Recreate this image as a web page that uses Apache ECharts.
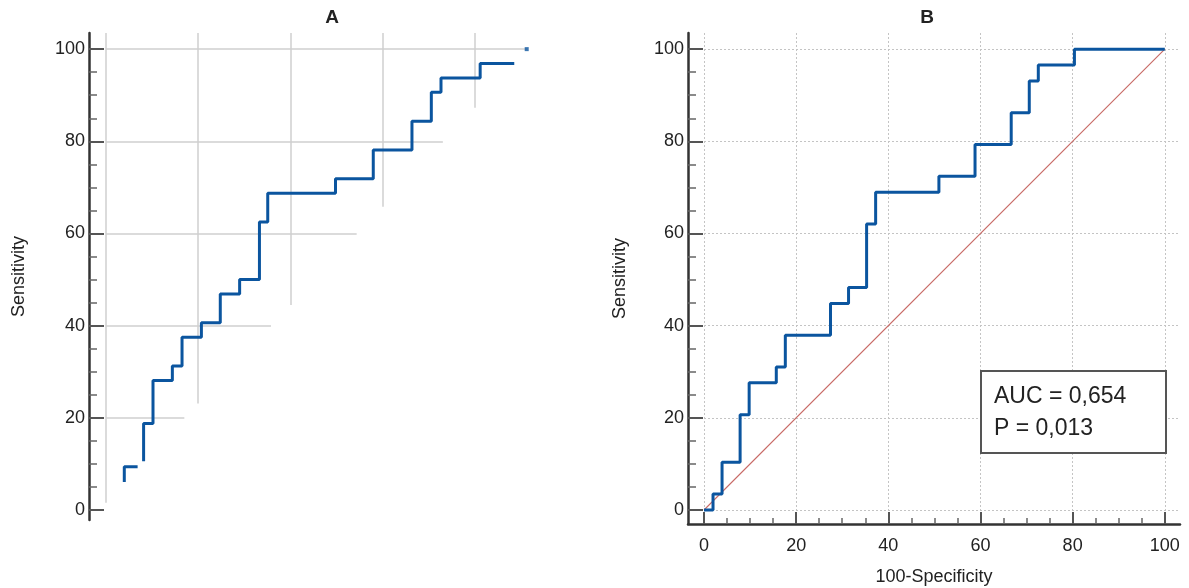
<!DOCTYPE html>
<html><head><meta charset="utf-8">
<script src="https://cdn.jsdelivr.net/npm/echarts@6/dist/echarts.min.js"></script>
<style>html,body{margin:0;padding:0;background:#fff}#c{width:1189px;height:588px}</style>
</head><body><div id="c"></div>
<script>
// ---- texts ----
const titleA = 'A';
const titleB = 'B';
const yName = 'Sensitivity';
const xName = '100-Specificity';
const aucText = 'AUC = 0,654';
const pText = 'P = 0,013';

// ---- axes (ranges extend a little past 0 and 100, ticks only at these values) ----
const tickValues = [0, 20, 40, 60, 80, 100];
const aXRange = [-3.69, 103.3];
const aYRange = [-2.17, 103.5];
const bXRange = [-3.47, 103.3];
const bYRange = [-3.04, 103.5];

// ---- panel A: ROC curve (null = gap in the drawn line) ----
const aFpr  = [3.97, 3.97, 6.86, null, 8.16, 8.16, 10.2, 14.4, 16.5, 20.7, 24.8, 29.0, 33.3, 35.1, 49.8, 58.0, 66.4, 70.6, 72.7, 81.2, 88.6];
const aSens = [6.1, 9.375, 9.375, null, 10.6, 18.75, 28.125, 31.25, 37.5, 40.625, 46.875, 50, 62.5, 68.75, 71.875, 78.125, 84.375, 90.625, 93.75, 96.875, 96.875];
const aEndDot = [91.3, 100];
// panel A partially drawn grid lines
const aGridX = [0, 20, 40, 60, 80];
const aGridXBottom = [1.6, 23.1, 44.5, 65.8, 87.3];
const aGridY = [100, 80, 60, 40, 20];
const aGridYRight = [91.3, 73.1, 54.4, 35.8, 17.0];

// ---- panel B: ROC curve ----
const bFpr  = [0, 1.96, 3.92, 7.84, 9.8, 15.69, 17.65, 27.45, 31.37, 35.29, 37.25, 50.98, 58.82, 66.67, 70.59, 72.55, 80.39, 100];
const bSens = [0, 3.45, 10.34, 20.69, 27.59, 31.03, 37.93, 44.83, 48.28, 62.07, 68.97, 72.41, 79.31, 86.21, 93.1, 96.55, 100, 100];
const chanceX = [0, 100];
const chanceY = [0, 100];

// ---- styles ----
const FONT = 'Liberation Sans, Arial, Helvetica, sans-serif';
const BLUE = '#0b559f';
const DIAG = '#c86a66';
const TXT = '#222';
const AXIS_LINE = { show: true, onZero: false, lineStyle: { color: '#333', width: 2.5 } };

const pairs = (xs, ys) => xs.map((x, i) => (x === null ? '-' : [x, ys[i]]));

const aGridSegments = aGridX.map((x, i) => ({ coords: [[x, aGridXBottom[i]], [x, aYRange[1]]] }))
  .concat(aGridY.map((y, i) => ({ coords: [[0, y], [aGridYRight[i], y]] })));

const gridLineStyle = { show: true, lineStyle: { color: '#c4c4c4', type: [2, 2], width: 1 } };

function valueAxis(gridIndex, range, tickLen, minorLen, extra) {
  return Object.assign({
    type: 'value', gridIndex, min: range[0], max: range[1],
    splitNumber: 5, minInterval: 20, maxInterval: 20,
    axisLine: AXIS_LINE,
    axisTick: { show: true, inside: true, length: tickLen, customValues: tickValues, lineStyle: { color: '#555', width: 2 } },
    minorTick: { show: true, splitNumber: 4, length: minorLen, lineStyle: { color: '#666', width: 1.5 } },
    axisLabel: { customValues: tickValues, fontSize: 18, color: TXT, fontFamily: FONT, margin: 4 },
    splitLine: { show: false }
  }, extra);
}

const option = {
  animation: false,
  backgroundColor: '#fff',
  grid: [
    { left: 89, top: 33, width: 493, height: 487, outerBoundsMode: 'none', containLabel: false },
    { left: 688, top: 33, width: 492, height: 491, outerBoundsMode: 'none', containLabel: false }
  ],
  xAxis: [
    { type: 'value', gridIndex: 0, min: aXRange[0], max: aXRange[1], show: false },
    valueAxis(1, bXRange, 12, 6, {
      axisLabel: { customValues: tickValues, fontSize: 18, color: TXT, fontFamily: FONT, margin: 13 },
      splitLine: gridLineStyle,
      name: xName, nameLocation: 'middle', nameGap: 44,
      nameTextStyle: { fontSize: 18, color: TXT, fontFamily: FONT }
    })
  ],
  yAxis: [
    valueAxis(0, aYRange, 15, 8, {
      name: yName, nameLocation: 'middle', nameGap: 61,
      nameTextStyle: { fontSize: 18, color: TXT, fontFamily: FONT }
    }),
    valueAxis(1, bYRange, 15, 8, {
      splitLine: gridLineStyle,
      name: yName, nameLocation: 'middle', nameGap: 59,
      nameTextStyle: { fontSize: 18, color: TXT, fontFamily: FONT }
    })
  ],
  series: [
    {
      type: 'lines', coordinateSystem: 'cartesian2d', xAxisIndex: 0, yAxisIndex: 0,
      data: aGridSegments, silent: true, z: 1,
      lineStyle: { color: '#cfcfcf', width: 1.5, opacity: 1 }
    },
    {
      type: 'line', xAxisIndex: 0, yAxisIndex: 0, step: 'end', showSymbol: false, symbol: 'none',
      data: pairs(aFpr, aSens), connectNulls: false, z: 3, color: BLUE,
      lineStyle: { color: BLUE, width: 3 }
    },
    {
      type: 'scatter', xAxisIndex: 0, yAxisIndex: 0, data: [aEndDot],
      symbol: 'rect', symbolSize: 4, itemStyle: { color: BLUE }, z: 3
    },
    {
      type: 'line', xAxisIndex: 1, yAxisIndex: 1, showSymbol: false, symbol: 'none',
      data: pairs(chanceX, chanceY), z: 2, color: DIAG, silent: true,
      itemStyle: { color: DIAG },
      lineStyle: { color: DIAG, width: 1.1, opacity: 1 }
    },
    {
      type: 'line', xAxisIndex: 1, yAxisIndex: 1, step: 'end', showSymbol: false, symbol: 'none',
      data: pairs(bFpr, bSens), z: 3, color: BLUE,
      lineStyle: { color: BLUE, width: 3 }
    }
  ],
  graphic: [
    { type: 'text', x: 332, y: 18, style: { text: titleA, fontSize: 19, fontWeight: 'bold', fontFamily: FONT, fill: TXT, align: 'center', verticalAlign: 'middle' } },
    { type: 'text', x: 927, y: 18, style: { text: titleB, fontSize: 19, fontWeight: 'bold', fontFamily: FONT, fill: TXT, align: 'center', verticalAlign: 'middle' } },
    { type: 'rect', x: 981, y: 371, z: 10, shape: { width: 185, height: 82 }, style: { fill: '#fff', stroke: '#555', lineWidth: 2 } },
    { type: 'text', x: 994, y: 397, z: 11, style: { text: aucText, fontSize: 23, fontFamily: FONT, fill: TXT, verticalAlign: 'middle' } },
    { type: 'text', x: 994, y: 429, z: 11, style: { text: pText, fontSize: 23, fontFamily: FONT, fill: TXT, verticalAlign: 'middle' } }
  ]
};

const chart = echarts.init(document.getElementById('c'), null, { renderer: 'canvas' });
chart.setOption(option);
</script>
</body></html>
